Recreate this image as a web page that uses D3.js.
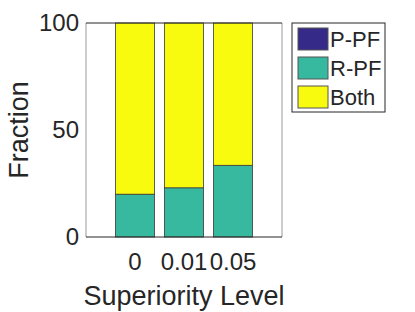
<!DOCTYPE html>
<html>
<head>
<meta charset="utf-8">
<script src="https://cdn.jsdelivr.net/npm/d3@7"></script>
<style>
  body { margin: 0; background: #fff; }
  text { font-family: "Liberation Sans", Arial, sans-serif; fill: #262626; }
</style>
</head>
<body>
<svg id="chart"></svg>
<script>
// data
const levels = ["0", "0.01", "0.05"];
const series = ["P-PF", "R-PF", "Both"];
const pPF = [0, 0, 0];
const rPF = [20, 23, 33.5];
const both = [80, 77, 66.5];
const yTicks = [0, 50, 100];
const colors = ["#352a87", "#36b99e", "#f9fb0e"];

const W = 415, H = 312;
const svg = d3.select("#chart").attr("width", W).attr("height", H);

const x = d3.scaleLinear().domain([0, levels.length + 1]).range([86, 282]);
const y = d3.scaleLinear().domain([0, 100]).range([237, 23]);
const barW = x(0.8) - x(0);

const rows = levels.map((l, i) => ({ level: l, i: i + 1, "P-PF": pPF[i], "R-PF": rPF[i], "Both": both[i] }));
const stacked = d3.stack().keys(series)(rows);

const g = svg.append("g");
stacked.forEach((s, k) => {
  g.selectAll(null)
    .data(s)
    .enter().append("rect")
    .attr("x", d => x(d.data.i) - barW / 2)
    .attr("y", d => y(d[1]))
    .attr("width", barW)
    .attr("height", d => y(d[0]) - y(d[1]))
    .attr("fill", colors[k])
    .attr("stroke", "#3a3a3a")
    .attr("stroke-width", 0.8);
});

// axes box
svg.append("line").attr("x1", x(0)).attr("x2", x(0)).attr("y1", y(0)).attr("y2", y(100))
  .attr("stroke", "#999").attr("stroke-width", 1);
svg.append("line").attr("x1", x(4)).attr("x2", x(4)).attr("y1", y(0)).attr("y2", y(100))
  .attr("stroke", "#999").attr("stroke-width", 1);
svg.append("line").attr("x1", x(0)).attr("x2", x(4)).attr("y1", y(100)).attr("y2", y(100))
  .attr("stroke", "#262626").attr("stroke-width", 1);
svg.append("line").attr("x1", x(0)).attr("x2", x(4)).attr("y1", y(0)).attr("y2", y(0))
  .attr("stroke", "#262626").attr("stroke-width", 1);

// y ticks
svg.selectAll(null).data(yTicks).enter().append("text")
  .attr("x", 79).attr("y", d => y(d) + 8)
  .attr("text-anchor", "end")
  .attr("font-size", 24)
  .text(d => d);

// x ticks
svg.selectAll(null).data(rows).enter().append("text")
  .attr("x", d => x(d.i)).attr("y", 270)
  .attr("text-anchor", "middle")
  .attr("font-size", 24)
  .text(d => d.level);

// axis labels
svg.append("text").attr("x", x(2)).attr("y", 305)
  .attr("text-anchor", "middle").attr("font-size", 27)
  .text("Superiority Level");
svg.append("text").attr("transform", `translate(28,${(y(0) + y(100)) / 2}) rotate(-90)`)
  .attr("text-anchor", "middle").attr("font-size", 27)
  .text("Fraction");

// legend
const lg = svg.append("g").attr("transform", "translate(292,23)");
lg.append("rect").attr("width", 93).attr("height", 89)
  .attr("fill", "#fff").attr("stroke", "#262626").attr("stroke-width", 1);
series.forEach((s, k) => {
  lg.append("rect").attr("x", 6).attr("y", 5 + k * 29).attr("width", 30).attr("height", 22)
    .attr("fill", colors[k]).attr("stroke", "#555").attr("stroke-width", 1);
  lg.append("text").attr("x", 38).attr("y", 24 + k * 29)
    .attr("font-size", 22).text(s);
});
</script>
</body>
</html>
